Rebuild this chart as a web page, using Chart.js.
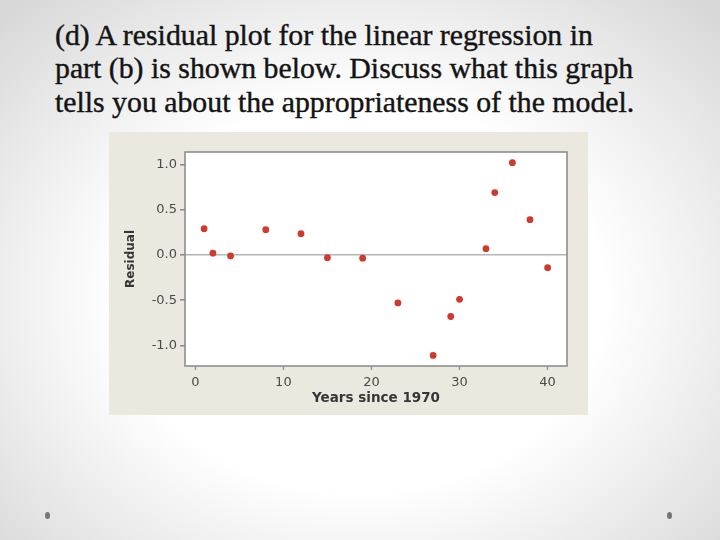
<!DOCTYPE html>
<html>
<head>
<meta charset="utf-8">
<script src="https://cdn.jsdelivr.net/npm/chart.js@4.4.0/dist/chart.umd.min.js"></script>
<style>
  html, body { margin:0; padding:0; }
  body {
    width:720px; height:540px; position:relative; overflow:hidden;
    background: radial-gradient(ellipse 75% 80% at 50% 55%, #ffffff 45%, #d2d2d2 100%);
  }
  #title {
    position:absolute; left:55px; top:18px; white-space:nowrap;
    font-family:"Liberation Serif", serif; color:#141414;
    line-height:33.4px; font-size:24px;
    -webkit-text-stroke: 0.4px #141414;
  }
  #inset {
    position:absolute; left:109px; top:132px; width:479px; height:283px;
    background:#ebe8df;
  }
  .dot {
    position:absolute; width:5px; height:7px; border-radius:50%; background:#767676;
  }
</style>
</head>
<body>
<div id="title"><span id="l1">(d) A residual plot for the linear regression in</span><br>part (b) is shown below. Discuss what this graph<br>tells you about the appropriateness of the model.</div>
<div id="inset"><canvas id="c" width="479" height="283"></canvas></div>
<div class="dot" style="left:45px; top:512px;"></div>
<div class="dot" style="left:667px; top:512px;"></div>
<script>
// ---- data ----
const years = [1, 2, 4, 8, 12, 15, 19, 23, 27, 29, 30, 33, 34, 36, 38, 40];
const residuals = [0.29, 0.02, -0.01, 0.28, 0.235, -0.03, -0.035, -0.53, -1.11, -0.68, -0.49, 0.07, 0.69, 1.02, 0.39, -0.14];
const xTickValues = [0, 10, 20, 30, 40];
const yTickValues = [-1.0, -0.5, 0.0, 0.5, 1.0];
const xTitle = "Years since 1970";
const yTitle = "Residual";

// fit title font size to the reference line width
(function(){
  const l1 = document.getElementById('l1');
  const w = l1.getBoundingClientRect().width;
  const fs = 24 * 538 / w;
  document.getElementById('title').style.fontSize = fs.toFixed(2) + 'px';
})();

const points = years.map((x, i) => ({x: x, y: residuals[i]}));

const plotFrame = {
  id: 'plotFrame',
  beforeDraw(chart) {
    const {ctx, chartArea: a} = chart;
    ctx.save();
    ctx.fillStyle = '#ffffff';
    ctx.fillRect(a.left, a.top, a.right - a.left, a.bottom - a.top);
    ctx.restore();
  },
  afterDatasetsDraw(chart) {
    const {ctx, chartArea: a} = chart;
    ctx.save();
    ctx.strokeStyle = '#8e8e8e';
    ctx.lineWidth = 1.6;
    ctx.strokeRect(a.left, a.top, a.right - a.left, a.bottom - a.top);
    ctx.restore();
  }
};

new Chart(document.getElementById('c'), {
  type: 'scatter',
  data: {
    datasets: [{
      data: points,
      backgroundColor: '#cc3b2e',
      borderWidth: 0,
      pointRadius: 3.4,
      pointHoverRadius: 3.4
    }]
  },
  options: {
    responsive: false,
    animation: false,
    layout: { padding: { top: 20, right: 21, left: 0, bottom: 0 } },
    plugins: { legend: { display: false }, tooltip: { enabled: false } },
    scales: {
      x: {
        type: 'linear',
        min: -1.17, max: 42.2,
        afterBuildTicks: s => { s.ticks = xTickValues.map(v => ({value: v})); },
        afterFit: s => { s.height = 49; },
        border: { display: false },
        grid: { drawOnChartArea: false, drawTicks: true, tickLength: 4, tickColor: '#999999', tickWidth: 1.5 },
        ticks: {
          padding: 5,
          color: '#4a4a4a',
          font: { family: 'DejaVu Sans', size: 13 },
          callback: v => String(v),
          maxRotation: 0
        },
        title: {
          display: true, text: xTitle, color: '#363636',
          font: { family: 'DejaVu Sans', size: 13.5, weight: 'bold' },
          padding: { top: 0, bottom: 8.5 }
        }
      },
      y: {
        type: 'linear',
        min: -1.227, max: 1.138,
        afterBuildTicks: s => { s.ticks = yTickValues.map(v => ({value: v})); },
        afterFit: s => { s.width = 76; },
        border: { display: false },
        grid: {
          drawOnChartArea: true, drawTicks: true, tickLength: 5,
          color: c => (c.tick && c.tick.value === 0) ? '#b5b5b5' : 'rgba(0,0,0,0)',
          lineWidth: 1.6,
          tickColor: '#888888', tickWidth: 1.5
        },
        ticks: {
          padding: 3,
          color: '#4a4a4a',
          font: { family: 'DejaVu Sans', size: 13 },
          callback: v => Number(v).toFixed(1)
        },
        title: {
          display: true, text: yTitle, color: '#363636',
          font: { family: 'DejaVu Sans', size: 12, weight: 'bold' },
          padding: { top: 14.8, bottom: 0 }
        }
      }
    }
  },
  plugins: [plotFrame]
});
</script>
</body>
</html>
